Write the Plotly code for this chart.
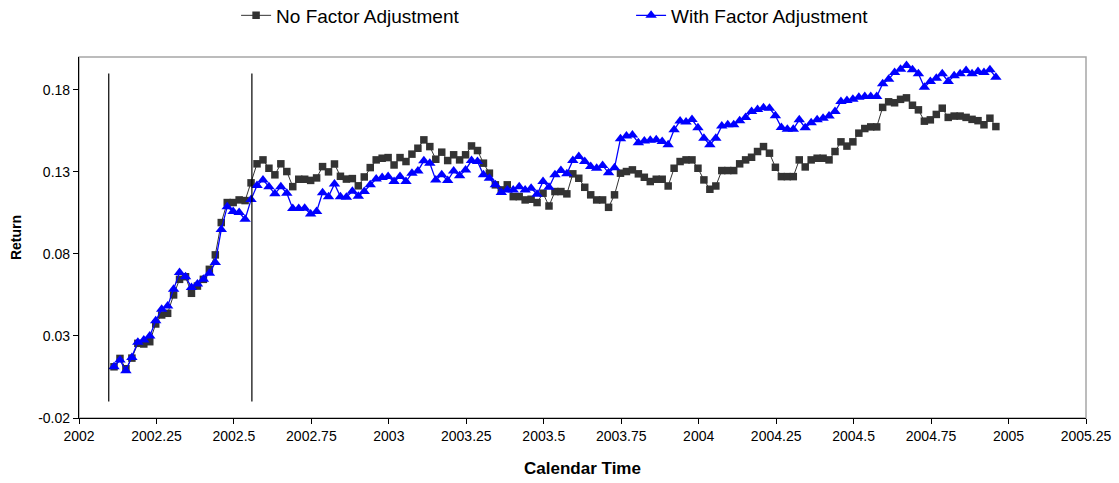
import plotly.graph_objects as go

# ---- data (weekly observations) ----
start_time = 2002.113
weeks_per_year = 52

no_factor = [
    0.0112, 0.0163, 0.0100, 0.0165, 0.0255, 0.0251, 0.0265, 0.0373, 0.0428, 0.0438,
    0.0550, 0.0645, 0.0661, 0.0560, 0.0604, 0.0645, 0.0706, 0.0794, 0.0991, 0.1113,
    0.1113, 0.1129, 0.1125, 0.1233, 0.1349, 0.1373, 0.1322, 0.1282, 0.1349, 0.1302,
    0.1210, 0.1255, 0.1255, 0.1248, 0.1263, 0.1332, 0.1300, 0.1348, 0.1273, 0.1256,
    0.1259, 0.1215, 0.1269, 0.1326, 0.1373, 0.1383, 0.1387, 0.1342, 0.1387, 0.1363,
    0.1408, 0.1444, 0.1495, 0.1454, 0.1377, 0.1420, 0.1369, 0.1404, 0.1373, 0.1404,
    0.1458, 0.1430, 0.1353, 0.1292, 0.1221, 0.1190, 0.1221, 0.1149, 0.1149, 0.1129,
    0.1133, 0.1113, 0.1170, 0.1092, 0.1180, 0.1180, 0.1166, 0.1288, 0.1261, 0.1206,
    0.1160, 0.1129, 0.1129, 0.1084, 0.1160, 0.1292, 0.1302, 0.1312, 0.1288, 0.1267,
    0.1241, 0.1255, 0.1255, 0.1214, 0.1322, 0.1363, 0.1373, 0.1373, 0.1322, 0.1251,
    0.1194, 0.1214, 0.1308, 0.1308, 0.1308, 0.1349, 0.1373, 0.1389, 0.1424, 0.1454,
    0.1414, 0.1328, 0.1271, 0.1271, 0.1271, 0.1373, 0.1330, 0.1373, 0.1383, 0.1383,
    0.1373, 0.1424, 0.1483, 0.1457, 0.1483, 0.1536, 0.1564, 0.1574, 0.1574, 0.1693,
    0.1727, 0.1721, 0.1742, 0.1751, 0.1706, 0.1678, 0.1609, 0.1617, 0.1650, 0.1688,
    0.1632, 0.1640, 0.1640, 0.1632, 0.1620, 0.1612, 0.1587, 0.1627, 0.1576,
]

with_factor = [
    0.0112, 0.0153, 0.0088, 0.0169, 0.0261, 0.0275, 0.0299, 0.0393, 0.0462, 0.0482,
    0.0584, 0.0686, 0.0661, 0.0596, 0.0617, 0.0645, 0.0682, 0.0747, 0.0948, 0.1088,
    0.1058, 0.1052, 0.1011, 0.1131, 0.1217, 0.1251, 0.1210, 0.1166, 0.1210, 0.1170,
    0.1076, 0.1076, 0.1078, 0.1043, 0.1058, 0.1172, 0.1149, 0.1226, 0.1149, 0.1146,
    0.1182, 0.1151, 0.1180, 0.1221, 0.1257, 0.1265, 0.1271, 0.1241, 0.1271, 0.1241,
    0.1292, 0.1306, 0.1367, 0.1353, 0.1251, 0.1282, 0.1247, 0.1306, 0.1277, 0.1312,
    0.1369, 0.1363, 0.1282, 0.1261, 0.1221, 0.1174, 0.1190, 0.1190, 0.1210, 0.1190,
    0.1200, 0.1164, 0.1241, 0.1206, 0.1282, 0.1308, 0.1288, 0.1369, 0.1393, 0.1363,
    0.1332, 0.1322, 0.1339, 0.1294, 0.1325, 0.1502, 0.1519, 0.1525, 0.1478, 0.1488,
    0.1493, 0.1495, 0.1485, 0.1465, 0.1556, 0.1610, 0.1604, 0.1619, 0.1569, 0.1505,
    0.1465, 0.1505, 0.1580, 0.1587, 0.1587, 0.1612, 0.1632, 0.1668, 0.1680, 0.1690,
    0.1688, 0.1642, 0.1571, 0.1560, 0.1560, 0.1617, 0.1569, 0.1599, 0.1617, 0.1627,
    0.1641, 0.1668, 0.1729, 0.1735, 0.1743, 0.1755, 0.1759, 0.1759, 0.1759, 0.1837,
    0.1865, 0.1906, 0.1926, 0.1948, 0.1922, 0.1898, 0.1816, 0.1851, 0.1871, 0.1898,
    0.1851, 0.1885, 0.1898, 0.1918, 0.1898, 0.1912, 0.1906, 0.1922, 0.1877,
]

calendar_time = [start_time + i / weeks_per_year for i in range(len(no_factor))]

x_ticks = [2002, 2002.25, 2002.5, 2002.75, 2003, 2003.25, 2003.5, 2003.75,
           2004, 2004.25, 2004.5, 2004.75, 2005, 2005.25]
x_tick_labels = ["2002", "2002.25", "2002.5", "2002.75", "2003", "2003.25", "2003.5",
                 "2003.75", "2004", "2004.25", "2004.5", "2004.75", "2005", "2005.25"]
y_ticks = [-0.02, 0.03, 0.08, 0.13, 0.18]
y_tick_labels = ["-0.02", "0.03", "0.08", "0.13", "0.18"]

event_times = [2002.096, 2002.558]
event_span = [-0.01, 0.19]

FONT = "Liberation Sans, Arial, sans-serif"

fig = go.Figure()
fig.add_trace(go.Scatter(
    x=calendar_time, y=no_factor, name="No Factor Adjustment",
    mode="lines+markers",
    line=dict(color="#333333", width=1),
    marker=dict(symbol="square", size=7.5, color="#333333"),
))
fig.add_trace(go.Scatter(
    x=calendar_time, y=with_factor, name="With Factor Adjustment",
    mode="lines+markers",
    line=dict(color="#0000ff", width=1.3),
    marker=dict(symbol="triangle-up", size=10, color="#0000ff"),
))

for t in event_times:
    fig.add_shape(type="line", xref="x", yref="y", x0=t, x1=t,
                  y0=event_span[0], y1=event_span[1],
                  line=dict(color="black", width=1.2))

# plot-area frame (grey top/right)
fig.add_shape(type="rect", xref="paper", yref="paper", x0=0, x1=1, y0=0, y1=1,
              line=dict(color="#a6a6a6", width=1.5), layer="below")

fig.update_layout(
    width=1119, height=483,
    margin=dict(l=79, r=33, t=57, b=65, autoexpand=False),
    paper_bgcolor="white", plot_bgcolor="white",
    font=dict(family=FONT, size=13, color="black"),
    showlegend=True,
    legend=dict(orientation="h", x=0.156, y=1.115, xanchor="left", yanchor="middle",
                font=dict(family=FONT, size=19, color="black"),
                entrywidth=350, bgcolor="rgba(0,0,0,0)"),
    xaxis=dict(
        range=[2002, 2005.25], tickmode="array", tickvals=x_ticks, ticktext=x_tick_labels,
        showgrid=False, zeroline=False, showline=True, linecolor="black", linewidth=1.2,
        ticks="outside", ticklen=5, tickcolor="black", tickfont=dict(size=14),
        title=dict(text="<b>Calendar Time</b>", font=dict(size=17), standoff=19),
        automargin=False,
    ),
    yaxis=dict(
        range=[-0.02, 0.2], tickmode="array", tickvals=y_ticks, ticktext=y_tick_labels,
        showgrid=False, zeroline=False, showline=True, linecolor="black", linewidth=1.2,
        ticks="outside", ticklen=5, tickcolor="black", tickfont=dict(size=14),
        title=dict(text="<b>Return</b>", font=dict(size=14), standoff=13),
        automargin=False,
    ),
)

fig.write_html(
    "out.html",
    config={"displayModeBar": False},
    post_script="document.body.style.margin='0';document.body.style.overflow='hidden';",
)
